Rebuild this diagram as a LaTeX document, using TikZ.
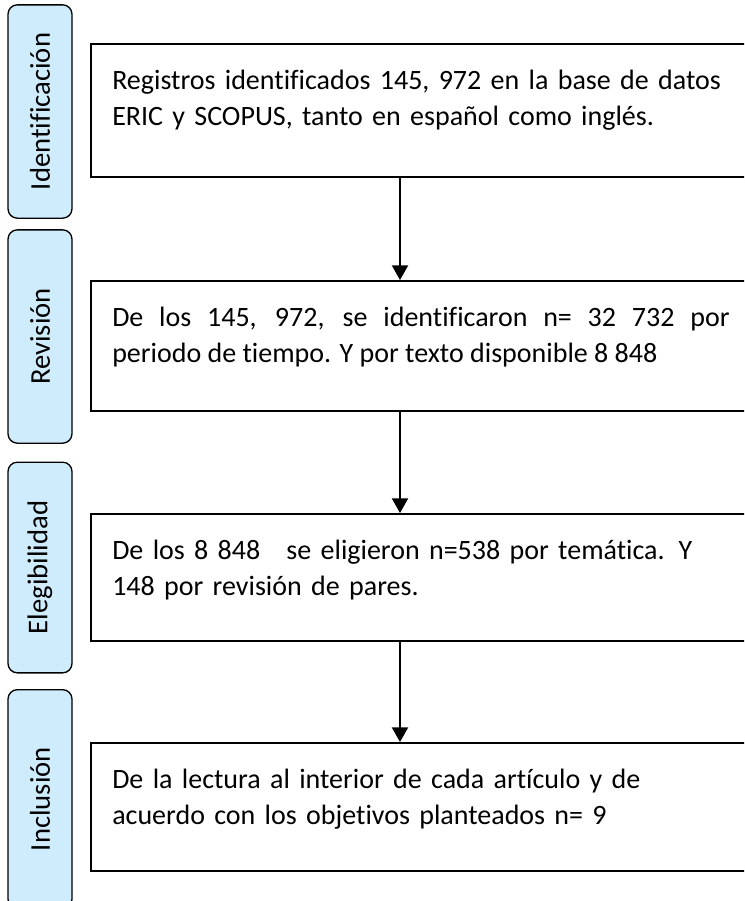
\documentclass[tikz,border=0pt]{standalone}
\usepackage{fontspec}
\setmainfont{Carlito}[Ligatures=CommonOff]
\usepackage{xcolor}
\usetikzlibrary{arrows.meta,positioning}

\definecolor{phasefill}{RGB}{207,236,253}

\begin{document}
\begin{tikzpicture}[
    x=0.75pt, y=-0.75pt,
    phase/.style={draw, line width=1pt, rounded corners=7pt, fill=phasefill, rotate=90,
        minimum height=48pt, inner sep=0pt, font=\fontsize{21.5}{27}\selectfont},
    stagebox/.style={draw, line width=1.2pt, minimum width=510pt, anchor=north west, inner sep=0pt},
    boxtext/.style={anchor=north west, inner sep=0pt, text width=463pt, font=\fontsize{21}{27}\selectfont},
    arr/.style={-{Triangle[length=11pt, width=12pt]}, line width=1.5pt}
]
    \path[use as bounding box, clip] (0,0) rectangle (744,901);

    % Phase labels
    \node[phase, minimum width=160pt] (pident) at (40,111.5) {Identificación};
    \node[phase, minimum width=160pt] (prev) at (40,336.5) {Revisión};
    \node[phase, minimum width=158pt] (pelig) at (40,567.5) {Elegibilidad};
    \node[phase, minimum width=164pt] (pincl) at (40,799) {Inclusión};

    % Stage boxes
    \node[stagebox, minimum height=99.75pt] (ident) at (90,43) {};
    \node[stagebox, minimum height=97.5pt] (rev) at (90,280) {};
    \node[stagebox, minimum height=95.25pt] (elig) at (90,513) {};
    \node[stagebox, minimum height=96pt] (incl) at (90,742) {};

    % Box texts
    \node[boxtext, align=left] (identtxt) at (112,70) {Registros identificados 145, 972 en la base de datos\\ERIC y SCOPUS, tanto en español como inglés.};
    \node[boxtext, align=justify] (revtxt) at (112,307) {De los 145, 972, se identificaron n= 32 732 por\linebreak periodo de tiempo. Y por texto disponible 8 848};
    \node[boxtext, align=left] (eligtxt) at (112,540) {De los 8 848\hspace{0.6em} se eligieron n=538 por temática. Y\\148 por revisión de pares.};
    \node[boxtext, align=left] (incltxt) at (112,769) {De la lectura al interior de cada artículo y de\\acuerdo con los objetivos planteados n= 9};

    % Arrows
    \coordinate (arrx) at (400,0);
    \draw[arr] (ident.south -| arrx) -- (rev.north -| arrx);
    \draw[arr] (rev.south -| arrx) -- (elig.north -| arrx);
    \draw[arr] (elig.south -| arrx) -- (incl.north -| arrx);
\end{tikzpicture}
\end{document}
